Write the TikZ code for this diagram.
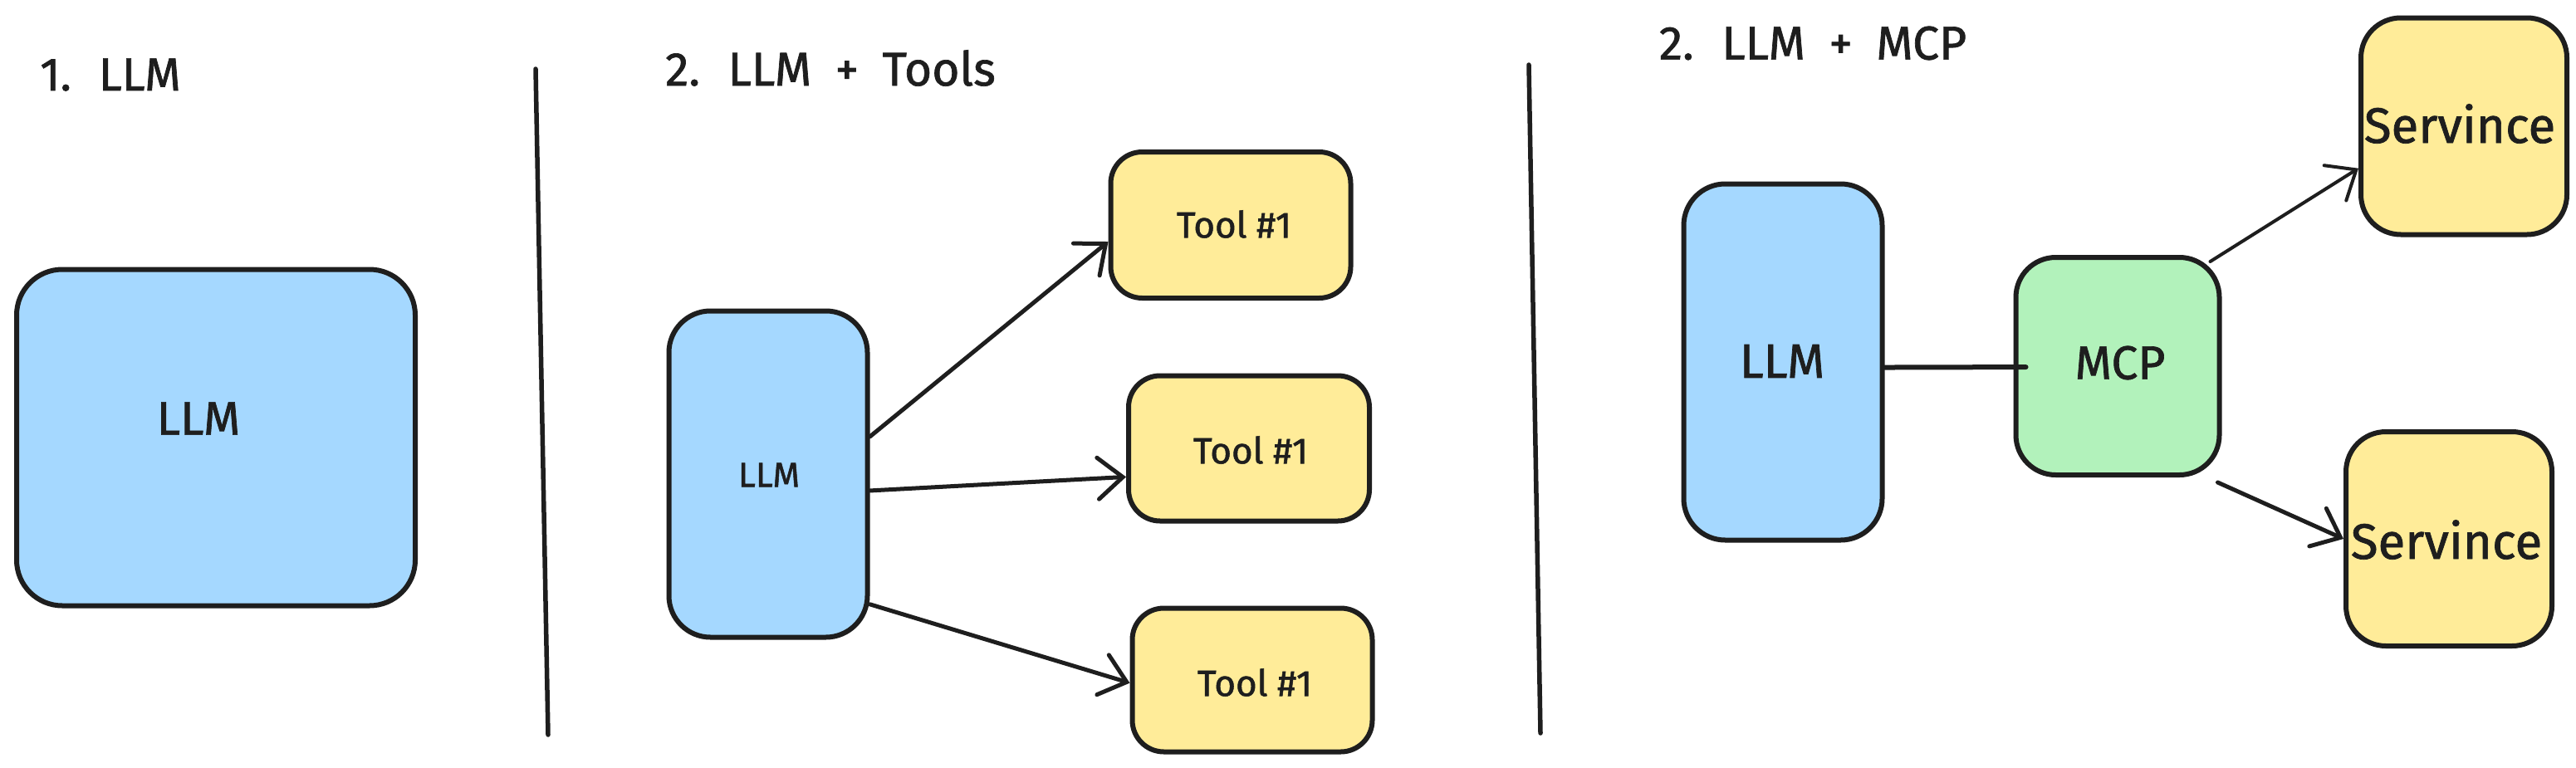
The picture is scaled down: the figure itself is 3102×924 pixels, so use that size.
\documentclass[tikz,border=0pt]{standalone}
\usepackage{fontspec}
\setmainfont{Fira Sans}[FakeBold=1.2]
\usetikzlibrary{arrows.meta,calc}
\definecolor{ink}{HTML}{1E1E1E}
\definecolor{llmblue}{HTML}{A5D8FF}
\definecolor{toolyellow}{HTML}{FFEC99}
\definecolor{mcpgreen}{HTML}{B2F2BB}
\newcommand{\fs}[1]{\fontsize{#1}{#1}\selectfont}
\newcommand{\wide}{\spaceskip=0.5em plus 0.1em\relax}
\begin{document}
\begin{tikzpicture}[x=1pt,y=-1pt,
  box/.style={draw=ink, line width=6pt, rounded corners=#1, inner sep=0pt},
  txt/.style={inner sep=0pt, text=ink},
  divider/.style={draw=ink, line width=5.5pt, line cap=round},
  conn/.style={draw=ink, line width=5pt, line cap=round,
    -{Straight Barb[length=30pt,width=50pt,line cap=round]}},
  plain/.style={draw=ink, line width=6pt, line cap=round}]
\useasboundingbox[fill=white] (0,0) rectangle (3102,924);

% titles
\node[txt, font=\fs{56}\wide] (t1) at (133,90) {1. LLM};
\node[txt, font=\fs{57}\wide] (t2) at (1000,82) {2. LLM + Tools};
\node[txt, font=\fs{57}\wide] (t3) at (2183,52) {2. LLM + MCP};

% dividers
\coordinate (d1a) at (645,83);
\coordinate (d1b) at (660,885);
\coordinate (d2a) at (1841,78);
\coordinate (d2b) at (1855,883);
\draw[divider] (d1a) -- (d1b);
\draw[divider] (d2a) -- (d2b);

% panel 1
\node[box=55pt, fill=llmblue, minimum width=480pt, minimum height=405pt] (llmA) at (260,527) {};
\node[txt, font=\fs{57}] (llmAt) at (239,504) {LLM};

% panel 2
\node[box=50pt, fill=llmblue, minimum width=239pt, minimum height=393pt] (llmB) at (925,571) {};
\node[txt, font=\fs{42}] (llmBt) at (926,572) {LLM};
\node[box=38pt, fill=toolyellow, minimum width=289pt, minimum height=176pt] (tool1) at (1482,271) {};
\node[txt, font=\fs{44}] (tool1t) at (1486,270) {Tool \#1};
\node[box=38pt, fill=toolyellow, minimum width=290pt, minimum height=175pt] (tool2) at (1504,540) {};
\node[txt, font=\fs{44}] (tool2t) at (1506,542) {Tool \#1};
\node[box=38pt, fill=toolyellow, minimum width=289pt, minimum height=173pt] (tool3) at (1508,819) {};
\node[txt, font=\fs{44}] (tool3t) at (1511,822) {Tool \#1};

\draw[conn] ($(llmB.north east)!0.387!(llmB.south east)$) -- ($(tool1.north west)!0.61!(tool1.south west)$);
\draw[conn] ($(llmB.north east)!0.55!(llmB.south east)$) -- ($(tool2.north west)!0.69!(tool2.south west)$);
\draw[conn] ($(llmB.north east)!0.893!(llmB.south east)$) -- ($(tool3.north west)!0.52!(tool3.south west)$);

% panel 3
\node[box=50pt, fill=llmblue, minimum width=239pt, minimum height=429pt] (llmC) at (2147,436) {};
\node[txt, font=\fs{58}] (llmCt) at (2146,435) {LLM};
\node[box=48pt, fill=mcpgreen, minimum width=245pt, minimum height=262pt] (mcp) at (2550,441) {};
\node[txt, font=\fs{57}] (mcpt) at (2553,437) {MCP};
\node[box=48pt, fill=toolyellow, minimum width=248pt, minimum height=261pt] (svc1) at (2967,152) {};
\node[txt, font=\fs{60}] (svc1t) at (2962,149) {Servince};
\node[box=48pt, fill=toolyellow, minimum width=248pt, minimum height=258pt] (svc2) at (2949,649) {};
\node[txt, font=\fs{60}] (svc2t) at (2946,650) {Servince};

\draw[plain] ($(llmC.north east)!0.515!(llmC.south east)$) -- ($(mcp.north west)!0.504!(mcp.south west)+(15,0)$);
\draw[conn, line width=4pt] ($(mcp.north east)+(-14,8)$) -- ($(svc1.north west)!0.69!(svc1.south west)$);
\draw[conn] ($(mcp.south east)+(-5,6)$) -- ($(svc2.north west)!0.5!(svc2.south west)$);
\end{tikzpicture}
\end{document}
